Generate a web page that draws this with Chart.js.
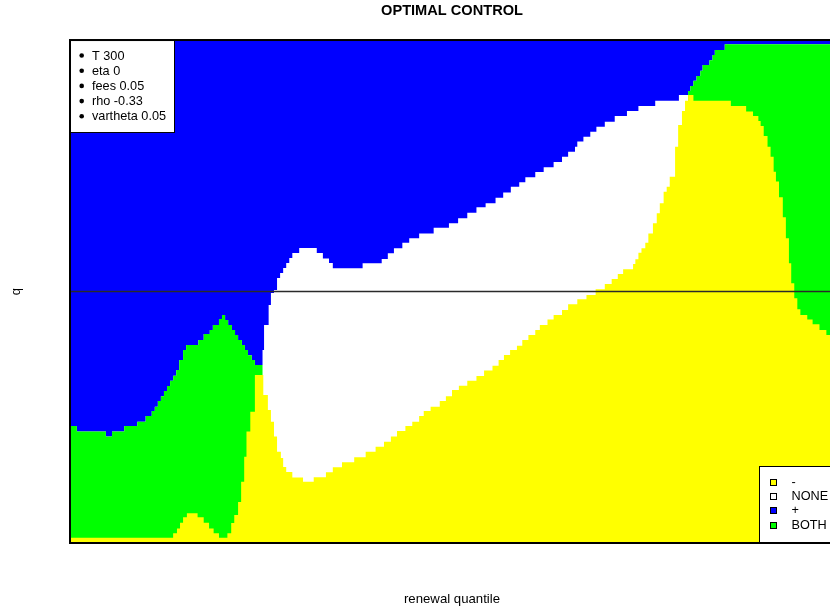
<!DOCTYPE html>
<html><head><meta charset="utf-8">
<script src="https://cdn.jsdelivr.net/npm/chart.js@4.4.1/dist/chart.umd.min.js"></script>
<style>
html,body{margin:0;padding:0;overflow:hidden;background:#fff;}
#wrap{width:904px;height:611px;position:relative;}
</style></head><body>
<div id="wrap"><canvas id="c" width="904" height="611"></canvas></div>
<script>
const titleText = 'OPTIMAL CONTROL';
const xLabel = 'renewal quantile';
const yLabel = 'q';
const paramLabels = ['T 300', 'eta 0', 'fees 0.05', 'rho -0.33', 'vartheta 0.05'];
const regionLabels = ['-', 'NONE', '+', 'BOTH'];
const regionColors = {'-': '#FFFF00', 'NONE': '#FFFFFF', '+': '#0000FF', 'BOTH': '#00FF00'};
const qMin = -1, qMax = 1, zeroLine = 0;

// lower edge of the "+" region (step function): renewal quantile -> q
const plusEdgeX = [0,0.009,0.047,0.055,0.071,0.088,0.099,0.107,0.111,0.115,0.119,0.123,0.127,0.131,0.135,0.139,0.143,0.148,0.152,0.168,0.175,0.183,0.187,0.195,0.199,0.203,0.207,0.212,0.216,0.220,0.225,0.229,0.233,0.238,0.242,0.252,0.254,0.260,0.263,0.267,0.271,0.275,0.279,0.283,0.287,0.291,0.300,0.323,0.331,0.339,0.344,0.383,0.408,0.416,0.424,0.435,0.444,0.457,0.476,0.496,0.508,0.520,0.532,0.544,0.557,0.567,0.577,0.588,0.596,0.609,0.620,0.633,0.644,0.652,0.661,0.664,0.672,0.681,0.689,0.700,0.713,0.729,0.744,0.766,0.797,0.809,0.812,0.816,0.820,0.825,0.828,0.837,0.841,0.844,0.857,1];
const plusEdgeQ = [-0.535,-0.557,-0.577,-0.557,-0.535,-0.518,-0.495,-0.475,-0.458,-0.435,-0.416,-0.396,-0.376,-0.355,-0.335,-0.312,-0.272,-0.233,-0.213,-0.193,-0.169,-0.153,-0.133,-0.109,-0.093,-0.113,-0.133,-0.153,-0.173,-0.193,-0.213,-0.233,-0.253,-0.272,-0.292,-0.233,-0.133,-0.054,-0.006,0.006,0.054,0.074,0.093,0.113,0.133,0.153,0.173,0.153,0.131,0.113,0.092,0.112,0.129,0.152,0.172,0.194,0.212,0.231,0.254,0.271,0.291,0.313,0.335,0.351,0.373,0.394,0.417,0.434,0.454,0.475,0.494,0.515,0.536,0.556,0.576,0.596,0.615,0.635,0.655,0.675,0.698,0.718,0.738,0.759,0.781,0.797,0.817,0.838,0.857,0.878,0.901,0.920,0.940,0.960,0.983,0.983];

// upper edge of the "-" region (step function)
const minusTopX = [0,0.135,0.140,0.144,0.148,0.153,0.167,0.175,0.182,0.188,0.195,0.206,0.211,0.215,0.220,0.224,0.228,0.231,0.236,0.242,0.253,0.259,0.263,0.267,0.271,0.276,0.279,0.283,0.291,0.305,0.319,0.335,0.344,0.356,0.372,0.387,0.400,0.411,0.420,0.428,0.439,0.448,0.457,0.463,0.472,0.484,0.492,0.500,0.509,0.520,0.532,0.542,0.553,0.561,0.568,0.576,0.585,0.592,0.600,0.609,0.615,0.625,0.633,0.644,0.652,0.664,0.676,0.688,0.700,0.709,0.717,0.724,0.737,0.740,0.744,0.748,0.753,0.757,0.763,0.768,0.772,0.777,0.781,0.785,0.792,0.796,0.801,0.805,0.809,0.816,0.865,0.885,0.894,0.901,0.904,0.908,0.913,0.917,0.921,0.924,0.928,0.933,0.937,0.941,0.944,0.948,0.952,0.956,0.965,0.972,0.981,0.990,1];
const minusTopQ = [-0.979,-0.961,-0.942,-0.919,-0.898,-0.882,-0.898,-0.919,-0.942,-0.961,-0.979,-0.961,-0.920,-0.889,-0.837,-0.756,-0.657,-0.557,-0.478,-0.332,-0.412,-0.471,-0.518,-0.577,-0.637,-0.662,-0.698,-0.718,-0.740,-0.756,-0.739,-0.719,-0.699,-0.679,-0.659,-0.637,-0.617,-0.597,-0.577,-0.555,-0.535,-0.518,-0.495,-0.475,-0.458,-0.435,-0.416,-0.392,-0.375,-0.355,-0.336,-0.314,-0.295,-0.272,-0.252,-0.233,-0.216,-0.193,-0.173,-0.153,-0.133,-0.111,-0.093,-0.074,-0.051,-0.031,-0.014,0.009,0.030,0.050,0.070,0.089,0.109,0.128,0.154,0.172,0.194,0.231,0.271,0.311,0.351,0.397,0.417,0.456,0.576,0.662,0.718,0.759,0.781,0.759,0.738,0.716,0.698,0.678,0.658,0.618,0.576,0.536,0.476,0.437,0.375,0.295,0.212,0.112,0.033,-0.027,-0.071,-0.093,-0.111,-0.130,-0.153,-0.173,-0.173];

// renewal-quantile spans where "BOTH" lies directly under "+"
const bothSpans = [[0, 0.252], [0.809, 1.01]];

const pts = (xs, qs) => xs.map((x, i) => ({x, y: qs[i]}));
const inBoth = x => bothSpans.some(([a, b]) => x >= a && x < b);
const bothTop = plusEdgeX.map((x, i) => ({x, y: inBoth(x) ? plusEdgeQ[i] : qMin}));

const fillDs = (label, data) => ({
  label, data, stepped: 'before', fill: 'start',
  backgroundColor: regionColors[label], borderColor: 'rgba(0,0,0,0)', borderWidth: 0,
  pointRadius: 0, pointHoverRadius: 0
});

const FONT = '"Liberation Sans", Arial, sans-serif';
Chart.defaults.font.family = FONT;
Chart.defaults.color = '#000';

const legendPlugin = {
  id: 'rLegends',
  afterDatasetsDraw(chart) {
    const {ctx, chartArea: a} = chart;
    ctx.save();
    ctx.font = '12.7px ' + FONT;
    ctx.textBaseline = 'middle';
    ctx.textAlign = 'left';
    ctx.lineWidth = 1;
    // parameters legend (top-left)
    const w1 = 105, h1 = 93;
    ctx.fillStyle = '#fff';
    ctx.fillRect(a.left, a.top, w1, h1);
    ctx.strokeStyle = '#000';
    ctx.strokeRect(a.left + 0.5, a.top + 0.5, w1 - 1, h1 - 1);
    paramLabels.forEach((t, i) => {
      const y = a.top + 16 + i * 15.2;
      ctx.fillStyle = '#000';
      ctx.beginPath(); ctx.arc(a.left + 11.7, y - 0.5, 2.3, 0, Math.PI * 2); ctx.fill();
      ctx.fillText(t, a.left + 22, y);
    });
    // regions legend (bottom-right)
    const w2 = 75, h2 = 77;
    const x0 = a.right - w2, y0 = a.bottom - h2;
    ctx.fillStyle = '#fff';
    ctx.fillRect(x0, y0, w2, h2);
    ctx.strokeStyle = '#000';
    ctx.strokeRect(Math.round(x0) + 0.5, Math.round(y0) + 0.5, w2, h2);
    regionLabels.forEach((t, i) => {
      const y = y0 + 16 + i * 14.4;
      const bx = Math.round(x0 + 11) + 0.5, by = Math.round(y - 3.5) + 0.5;
      ctx.fillStyle = regionColors[t];
      ctx.fillRect(bx, by, 6, 6);
      ctx.strokeStyle = '#000';
      ctx.strokeRect(bx, by, 6, 6);
      ctx.fillStyle = '#000';
      ctx.fillText(t, x0 + 32.5, y);
    });
    ctx.restore();
  },
  afterDraw(chart) {
    const {ctx, chartArea: a} = chart;
    ctx.save();
    ctx.strokeStyle = '#000';
    ctx.lineWidth = 2;
    ctx.strokeRect(a.left, a.top, a.right - a.left, a.bottom - a.top);
    ctx.restore();
  }
};

new Chart(document.getElementById('c'), {
  type: 'line',
  data: {
    datasets: [
      {label: 'q = 0', data: [{x: 0, y: zeroLine}, {x: 1, y: zeroLine}], borderColor: '#2a2a2a', borderWidth: 1.5, pointRadius: 0, fill: false},
      fillDs('-', pts(minusTopX, minusTopQ)),
      fillDs('BOTH', bothTop),
      fillDs('NONE', pts(plusEdgeX, plusEdgeQ)),
      fillDs('+', [{x: 0, y: qMax}, {x: 1, y: qMax}])
    ]
  },
  options: {
    responsive: false,
    animation: false,
    devicePixelRatio: 1,
    layout: {padding: 0},
    plugins: {
      legend: {display: false},
      tooltip: {enabled: false},
      title: {display: true, text: titleText, color: '#000', font: {size: 14.6, weight: 'bold'}, padding: {top: 2, bottom: 20.5}}
    },
    scales: {
      x: {
        type: 'linear', min: 0, max: 1,
        ticks: {display: false}, grid: {display: false}, border: {display: false},
        title: {display: true, text: xLabel, color: '#000', font: {size: 13.2}, padding: {top: 0, bottom: 4}},
        afterFit: s => { s.height = 68; }
      },
      y: {
        type: 'linear', min: qMin, max: qMax,
        ticks: {display: false}, grid: {display: false}, border: {display: false},
        title: {display: true, text: yLabel, color: '#000', font: {size: 13}, padding: {top: 8.5, bottom: 0}},
        afterFit: s => { s.width = 70; }
      },
      yRight: {
        type: 'linear', position: 'right', min: qMin, max: qMax,
        ticks: {display: false}, grid: {display: false}, border: {display: false},
        afterFit: s => { s.width = 70; }
      }
    }
  },
  plugins: [legendPlugin]
});
</script>
</body></html>
